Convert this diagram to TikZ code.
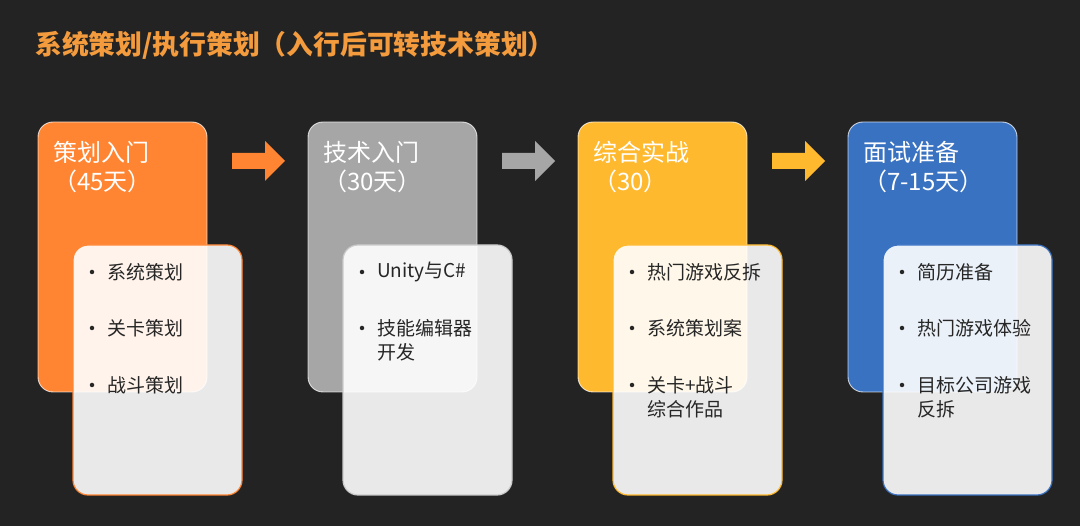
\documentclass[tikz,border=0pt]{standalone}
\usepackage{fontspec}
\setmainfont{Noto Sans CJK SC}
\definecolor{bgc}{HTML}{232323}
\definecolor{corange}{HTML}{FF8533}
\definecolor{cgray}{HTML}{A6A6A6}
\definecolor{cyellow}{HTML}{FFB92E}
\definecolor{cblue}{HTML}{3A72C2}
\definecolor{titlec}{HTML}{F39B3D}
\definecolor{darktext}{HTML}{262626}
\tikzset{
  topbox/.style={draw=white, draw opacity=0.75, line width=0.9pt, rounded corners=15pt,
    minimum width=169pt, minimum height=270pt, inner sep=0pt},
  lowbox/.style={fill=white, fill opacity=0.9, draw opacity=1, line width=1.2pt, rounded corners=15pt,
    minimum width=169pt, minimum height=250pt, inner sep=0pt},
  headtxt/.style={anchor=west, inner sep=0pt, text=white, font=\fontsize{24}{28}\selectfont},
  itemtxt/.style={anchor=west, inner sep=0pt, text=darktext, font=\fontsize{19}{24}\selectfont},
  bdot/.style={circle, fill=darktext, inner sep=0pt, minimum size=4.5pt},
  blockarrow/.style={draw=none}
}
\begin{document}
\begin{tikzpicture}[x=1pt,y=-1pt]
\useasboundingbox (0,0) rectangle (1080,526);
\fill[bgc] (0,0) rectangle (1080,526);

\node[anchor=west, inner sep=0pt, text=titlec, font=\fontsize{26.8}{31}\selectfont\bfseries]
  (title) at (35,45) {系统策划/执行策划（入行后可转技术策划）};

% top cards
\node[topbox, fill=corange] (top1) at (122.5,257) {};
\node[topbox, fill=cgray]   (top2) at (392.5,257) {};
\node[topbox, fill=cyellow] (top3) at (662.5,257) {};
\node[topbox, fill=cblue]   (top4) at (932.5,257) {};

% headings
\node[headtxt] (h1a) at (53,152) {策划入门};
\node[headtxt] (h1b) at (53,181) {（45天）};
\node[headtxt] (h2a) at (323,152) {技术入门};
\node[headtxt] (h2b) at (323,181) {（30天）};
\node[headtxt] (h3a) at (593,152) {综合实战};
\node[headtxt] (h3b) at (593,181) {（30）};
\node[headtxt] (h4a) at (863,152) {面试准备};
\node[headtxt] (h4b) at (863,181) {（7-15天）};

% lower boxes
\node[lowbox, draw=corange] (low1) at (157.5,370) {};
\node[lowbox, draw=cgray!60!white] (low2) at (427.5,370) {};
\node[lowbox, draw=cyellow] (low3) at (697.5,370) {};
\node[lowbox, draw=cblue] (low4) at (967.5,370) {};

% arrows
\coordinate (a1) at (258.5,161);
\coordinate (a2) at (528.5,161);
\coordinate (a3) at (798.5,161);
\foreach \a/\c in {a1/corange, a2/cgray, a3/cyellow}{
  \fill[\c, shift={(\a)}] (-26.5,-8) -- (6.5,-8) -- (6.5,-20) -- (26.5,0) -- (6.5,20) -- (6.5,8) -- (-26.5,8) -- cycle;
}

% card 1 items
\node[bdot] (d11) at (92,272) {};
\node[itemtxt] (i11) at (107,272) {系统策划};
\node[bdot] (d12) at (92,328) {};
\node[itemtxt] (i12) at (107,328) {关卡策划};
\node[bdot] (d13) at (92,385) {};
\node[itemtxt] (i13) at (107,385) {战斗策划};

% card 2 items
\node[bdot] (d21) at (362,272) {};
\node[itemtxt] (i21) at (377,272) {Unity与C\#};
\node[bdot] (d22) at (362,328) {};
\node[itemtxt] (i22) at (377,328) {技能编辑器};
\node[itemtxt] (i22b) at (377,352) {开发};

% card 3 items
\node[bdot] (d31) at (632,272) {};
\node[itemtxt] (i31) at (647,272) {热门游戏反拆};
\node[bdot] (d32) at (632,328) {};
\node[itemtxt] (i32) at (647,328) {系统策划案};
\node[bdot] (d33) at (632,385) {};
\node[itemtxt] (i33) at (647,385) {关卡+战斗};
\node[itemtxt] (i33b) at (647,409) {综合作品};

% card 4 items
\node[bdot] (d41) at (902,272) {};
\node[itemtxt] (i41) at (917,272) {简历准备};
\node[bdot] (d42) at (902,328) {};
\node[itemtxt] (i42) at (917,328) {热门游戏体验};
\node[bdot] (d43) at (902,385) {};
\node[itemtxt] (i43) at (917,385) {目标公司游戏};
\node[itemtxt] (i43b) at (917,409) {反拆};
\end{tikzpicture}
\end{document}
